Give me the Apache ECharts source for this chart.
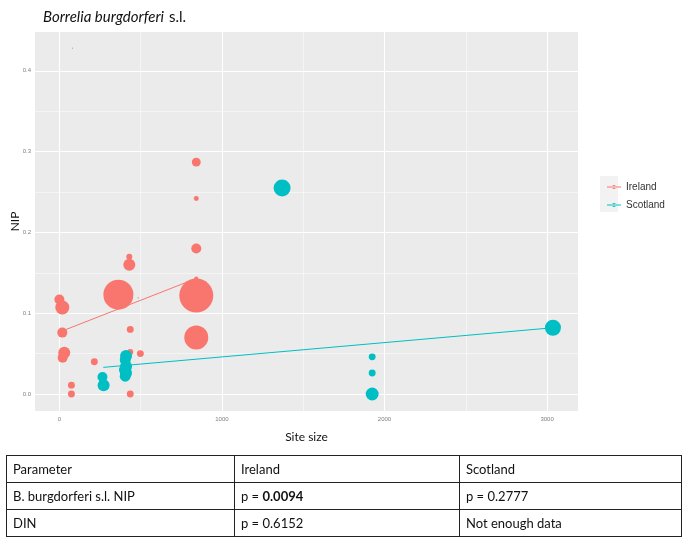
<!DOCTYPE html>
<html>
<head>
<meta charset="utf-8">
<script src="https://cdn.jsdelivr.net/npm/echarts@6/dist/echarts.min.js"></script>
<style>
  body { margin: 0; background: #fff; }
  #chart { position: absolute; left: 0; top: 0; width: 686px; height: 545px; }
  #tbl { position: absolute; left: 6px; top: 455px; width: 676px; border-collapse: collapse;
         font-family: Lato, "Open Sans", sans-serif; font-size: 13px; color: #111; }
  #tbl td { border: 1px solid #222; height: 26px; padding: 0 6px; vertical-align: middle; }
</style>
</head>
<body>
<div id="chart"></div>
<table id="tbl"></table>
<script>
// site size, NIP, sample weight (bubble area)
var ireland = [
  [0, 0.117, 25], [18, 0.107, 49], [18, 0.076, 25], [30, 0.051, 36], [20, 0.045, 25],
  [74, 0.011, 12], [74, 0.0, 12], [215, 0.040, 12], [363, 0.123, 225], [485, 0.119, 0.5],
  [430, 0.170, 9], [430, 0.160, 36], [436, 0.080, 12], [436, 0.052, 9], [498, 0.050, 12],
  [436, 0.0, 12], [842, 0.287, 20], [842, 0.242, 6], [842, 0.180, 25], [842, 0.143, 4],
  [842, 0.122, 289], [842, 0.070, 144], [80, 0.428, 0.3]
];
var scotland = [
  [265, 0.021, 25], [272, 0.011, 36], [410, 0.047, 36], [405, 0.042, 30], [410, 0.034, 36],
  [400, 0.030, 30], [410, 0.026, 36], [405, 0.022, 30], [1370, 0.255, 72],
  [1924, 0.046, 12], [1924, 0.026, 12], [1924, 0.0, 42], [3036, 0.082, 64]
];
// fitted lines (ends)
var irelandFit = [[30, 0.079], [842, 0.143]];
var scotlandFit = [[270, 0.033], [3036, 0.082]];

var xTicks = [0, 1000, 2000, 3000];
var xMinor = [500, 1500, 2500];
var yTicks = [0, 0.1, 0.2, 0.3, 0.4];
var yMinor = [0.05, 0.15, 0.25, 0.35];

var tableRows = [
  ['Parameter', 'Ireland', 'Scotland'],
  ['B. burgdorferi s.l. NIP', 'p = <b>0.0094</b>', 'p = 0.2777'],
  ['DIN', 'p = 0.6152', 'Not enough data']
];

var RED = '#F8766D', TEAL = '#00BFC4';

var html = '';
tableRows.forEach(function (r) {
  html += '<tr><td style="width:215px">' + r[0] + '</td><td style="width:212px">' + r[1] + '</td><td>' + r[2] + '</td></tr>';
});
document.getElementById('tbl').innerHTML = html;

function gridLines() {
  var d = [];
  xTicks.forEach(function (v) { d.push({ xAxis: v, lineStyle: { width: 1.1 } }); });
  xMinor.forEach(function (v) { d.push({ xAxis: v, lineStyle: { width: 0.5 } }); });
  yTicks.forEach(function (v) { d.push({ yAxis: v, lineStyle: { width: 1.1 } }); });
  yMinor.forEach(function (v) { d.push({ yAxis: v, lineStyle: { width: 0.5 } }); });
  return d;
}

var sizeFn = function (v) { return 2 * Math.sqrt(v[2]); };
var tickLabel = { fontSize: 6, color: '#7f7f7f', fontFamily: 'Liberation Sans' };
var legendIcon = 'path://M0,4.5h14v1h-14z M5,5a2,2 0 1,0 4,0a2,2 0 1,0 -4,0z';

var myChart = echarts.init(document.getElementById('chart'));
var option = {
  animation: false,
  title: {
    text: '{i|Borrelia burgdorferi} {n|s.l.}',
    left: 38, top: 3,
    textStyle: {
      fontWeight: 'normal',
      rich: {
        i: { fontStyle: 'italic', fontWeight: 'normal', fontSize: 15, fontFamily: 'Lato', color: '#111' },
        n: { fontWeight: 'normal', fontSize: 15, fontFamily: 'Lato', color: '#111' }
      }
    }
  },
  graphic: [{
    type: 'rect', left: 600, top: 176, z: 0,
    shape: { width: 18, height: 36 }, style: { fill: '#F2F2F2' }
  }],
  legend: {
    data: ['Ireland', 'Scotland'],
    orient: 'vertical', left: 602, top: 177,
    itemWidth: 14, itemHeight: 10, itemGap: 8,
    icon: legendIcon,
    textStyle: { fontSize: 10, color: '#333', fontFamily: 'Liberation Sans' }
  },
  grid: {
    left: 35, right: 108, top: 32, bottom: 134,
    outerBoundsMode: 'none', containLabel: false,
    show: true, backgroundColor: '#EBEBEB', borderWidth: 0
  },
  xAxis: {
    type: 'value', min: -150, max: 3190,
    name: 'Site size', nameLocation: 'middle', nameGap: 20,
    nameTextStyle: { fontSize: 12, color: '#111', fontFamily: 'Lato' },
    splitLine: { show: false },
    axisLine: { show: false },
    axisTick: { show: true, length: 3, customValues: xTicks, lineStyle: { color: '#999' } },
    axisLabel: Object.assign({
      customValues: xTicks, margin: 5,
      formatter: function (v) { return String(v); }
    }, tickLabel)
  },
  yAxis: {
    type: 'value', min: -0.021, max: 0.448,
    name: 'NIP', nameLocation: 'middle', nameGap: 14, nameRotate: 90,
    nameMoveOverlap: false,
    nameTextStyle: { fontSize: 12, color: '#111', fontFamily: 'Lato' },
    splitLine: { show: false },
    axisLine: { show: false },
    axisTick: { show: true, length: 3, customValues: yTicks, lineStyle: { color: '#999' } },
    axisLabel: Object.assign({
      customValues: yTicks, margin: 4,
      formatter: function (v) { return v.toFixed(1); }
    }, tickLabel)
  },
  series: [
    {
      type: 'line', data: [], silent: true, z: 1,
      markLine: {
        silent: true, symbol: 'none', z: 1, label: { show: false },
        lineStyle: { color: '#fff', type: 'solid' },
        data: gridLines()
      }
    },
    {
      name: 'Ireland', type: 'line', data: irelandFit, z: 2, symbol: 'none',
      lineStyle: { color: RED, width: 1 }, itemStyle: { color: RED }
    },
    {
      name: 'Scotland', type: 'line', data: scotlandFit, z: 2, symbol: 'none',
      lineStyle: { color: TEAL, width: 1 }, itemStyle: { color: TEAL }
    },
    {
      name: 'Ireland', type: 'scatter', data: ireland, z: 10,
      symbolSize: sizeFn, itemStyle: { color: RED, opacity: 1 }
    },
    {
      name: 'Scotland', type: 'scatter', data: scotland, z: 10,
      symbolSize: sizeFn, itemStyle: { color: TEAL, opacity: 1 }
    }
  ]
};
myChart.setOption(option);
</script>
</body>
</html>
